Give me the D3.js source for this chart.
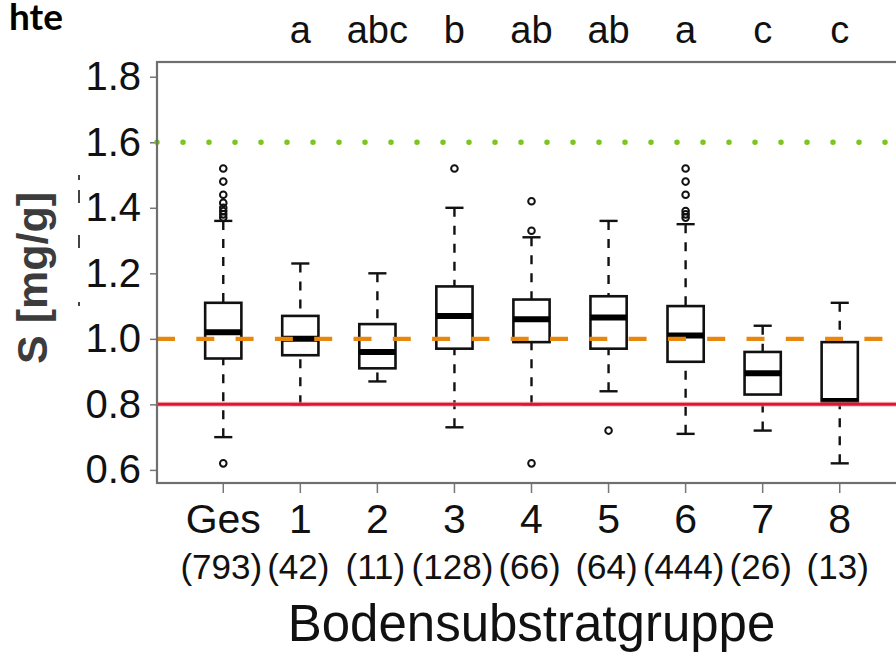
<!DOCTYPE html>
<html>
<head>
<meta charset="utf-8">
<script src="https://cdn.jsdelivr.net/npm/d3@7"></script>
<style>
  html, body { margin: 0; padding: 0; background: #fff; }
  svg { display: block; }
  text { font-family: "Liberation Sans", Arial, Helvetica, sans-serif; }
</style>
</head>
<body>
<svg id="chart" width="896" height="652"></svg>
<script>
// ---- data ----
const categories = ["Ges", "1", "2", "3", "4", "5", "6", "7", "8"];
const counts = [793, 42, 11, 128, 66, 64, 444, 26, 13];
const letters = ["", "a", "abc", "b", "ab", "ab", "a", "c", "c"];
const whiskerLow = [0.70, 0.80, 0.87, 0.73, 0.80, 0.84, 0.71, 0.72, 0.62];
const q1 = [0.94, 0.95, 0.91, 0.97, 0.99, 0.97, 0.93, 0.83, 0.805];
const median = [1.02, 1.00, 0.96, 1.07, 1.06, 1.065, 1.01, 0.895, 0.81];
const q3 = [1.11, 1.07, 1.045, 1.16, 1.12, 1.13, 1.10, 0.96, 0.99];
const whiskerHigh = [1.36, 1.23, 1.20, 1.40, 1.31, 1.36, 1.35, 1.04, 1.11];
const outliers = [
  [1.52, 1.48, 1.44, 1.415, 1.40, 1.39, 1.38, 1.37, 0.62],
  [],
  [],
  [1.52],
  [1.42, 1.33, 0.62],
  [0.72],
  [1.52, 1.48, 1.44, 1.39, 1.38, 1.37],
  [],
  []
];
const yTicks = [0.6, 0.8, 1.0, 1.2, 1.4, 1.6, 1.8];
const refLines = [
  { value: 1.6, kind: "dotted" },
  { value: 1.0, kind: "dashed" },
  { value: 0.8, kind: "solid" }
];
const yLabel = "S [mg/g]";
const xLabel = "Bodensubstratgruppe";
const cornerText = "hte";

// ---- layout ----
const svg = d3.select("#chart");
const frame = { left: 157, right: 906, top: 62, bottom: 483 };
const x = d3.scaleLinear().domain([0.14, 9.86]).range([frame.left, frame.right]);
const y = d3.scaleLinear().domain([0.56, 1.845]).range([frame.bottom, frame.top]);
const unit = x(2) - x(1);
const boxW = unit * 0.47;
const capW = boxW / 2;

const data = categories.map((c, i) => ({
  cat: c, pos: i + 1, n: counts[i], letter: letters[i],
  lo: whiskerLow[i], q1: q1[i], med: median[i], q3: q3[i], hi: whiskerHigh[i],
  out: outliers[i]
}));

// corner title fragment (cropped title in the source)
svg.append("text")
  .attr("x", 63).attr("y", 30)
  .attr("text-anchor", "end")
  .style("font-family", "Lato, 'Open Sans', sans-serif")
  .style("font-weight", 700)
  .style("font-size", "37px")
  .attr("fill", "#000")
  .text(cornerText);

// small cropped artifact (vertical dashed fragment at left)
svg.append("line")
  .attr("x1", 79).attr("x2", 79).attr("y1", 175).attr("y2", 306)
  .attr("stroke", "#444").attr("stroke-width", 2)
  .attr("stroke-dasharray", "5 10 13 32 13 54 4 100");

// y axis label
svg.append("text")
  .attr("transform", `translate(47,${278}) rotate(-90)`)
  .attr("text-anchor", "middle")
  .style("font-weight", 700)
  .style("font-size", "43px")
  .attr("fill", "#3c3c3c")
  .text(yLabel);

// y axis (ticks + labels)
const yAxis = d3.axisLeft(y).tickValues(yTicks).tickFormat(d3.format(".1f"))
  .tickSize(7).tickPadding(9);
const yg = svg.append("g").attr("transform", `translate(${frame.left},0)`).call(yAxis);
yg.select(".domain").remove();
yg.selectAll(".tick line").attr("stroke", "#777").attr("stroke-width", 1.5);
yg.selectAll(".tick text")
  .style("font-family", "'Liberation Sans', Arial, sans-serif")
  .style("font-size", "40px").attr("fill", "#111");

// x axis ticks
const xg = svg.append("g").attr("transform", `translate(0,${frame.bottom})`);
xg.selectAll("line").data(data).join("line")
  .attr("x1", d => x(d.pos)).attr("x2", d => x(d.pos))
  .attr("y1", 0).attr("y2", 10)
  .attr("stroke", "#777").attr("stroke-width", 1.5);

// x tick labels
svg.append("g").selectAll("text").data(data).join("text")
  .attr("x", d => x(d.pos)).attr("y", 533)
  .attr("text-anchor", "middle")
  .style("font-size", "41px").attr("fill", "#111")
  .text(d => d.cat);

svg.append("g").selectAll("text").data(data).join("text")
  .attr("x", d => x(d.pos) - 2).attr("y", 579)
  .attr("text-anchor", "middle")
  .style("font-size", "35px").attr("fill", "#111")
  .text(d => `(${d.n})`);

// x axis title
svg.append("text")
  .attr("x", (x(1) + x(9)) / 2).attr("y", 641)
  .attr("text-anchor", "middle")
  .style("font-size", "51px").attr("fill", "#111")
  .text(xLabel);

// significance letters
svg.append("g").selectAll("text").data(data.filter(d => d.letter)).join("text")
  .attr("x", d => x(d.pos)).attr("y", 43)
  .attr("text-anchor", "middle")
  .style("font-size", "38px").attr("fill", "#111")
  .text(d => d.letter);

// boxplots
const g = svg.append("g");
const box = g.selectAll("g.box").data(data).join("g").attr("class", "box");

// whiskers (dashed)
box.append("line")
  .attr("x1", d => x(d.pos)).attr("x2", d => x(d.pos))
  .attr("y1", d => y(d.hi)).attr("y2", d => y(d.q3))
  .attr("stroke", "#111").attr("stroke-width", 2.4).attr("stroke-dasharray", "9 9");
box.append("line")
  .attr("x1", d => x(d.pos)).attr("x2", d => x(d.pos))
  .attr("y1", d => y(d.lo)).attr("y2", d => y(d.q1))
  .attr("stroke", "#111").attr("stroke-width", 2.4).attr("stroke-dasharray", "9 9");
// caps
box.append("line")
  .attr("x1", d => x(d.pos) - capW / 2).attr("x2", d => x(d.pos) + capW / 2)
  .attr("y1", d => y(d.hi)).attr("y2", d => y(d.hi))
  .attr("stroke", "#111").attr("stroke-width", 2.4);
box.append("line")
  .attr("x1", d => x(d.pos) - capW / 2).attr("x2", d => x(d.pos) + capW / 2)
  .attr("y1", d => y(d.lo)).attr("y2", d => y(d.lo))
  .attr("stroke", "#111").attr("stroke-width", 2.4);
// box
box.append("rect")
  .attr("x", d => x(d.pos) - boxW / 2).attr("width", boxW)
  .attr("y", d => y(d.q3)).attr("height", d => y(d.q1) - y(d.q3))
  .attr("fill", "#fff").attr("stroke", "#111").attr("stroke-width", 2.6);
// median
box.append("line")
  .attr("x1", d => x(d.pos) - boxW / 2).attr("x2", d => x(d.pos) + boxW / 2)
  .attr("y1", d => y(d.med)).attr("y2", d => y(d.med))
  .attr("stroke", "#000").attr("stroke-width", 6);
// outliers
box.selectAll("circle").data(d => d.out.map(v => ({ pos: d.pos, v }))).join("circle")
  .attr("cx", d => x(d.pos)).attr("cy", d => y(d.v)).attr("r", 3.3)
  .attr("fill", "none").attr("stroke", "#111").attr("stroke-width", 2);

// reference lines
const refG = svg.append("g");
refLines.forEach(r => {
  const ln = refG.append("line")
    .attr("x1", frame.left).attr("x2", frame.right)
    .attr("y1", y(r.value)).attr("y2", y(r.value));
  if (r.kind === "dotted") {
    ln.attr("stroke", "#7cc51e").attr("stroke-width", 5.5)
      .attr("stroke-linecap", "round").attr("stroke-dasharray", "0 26");
  } else if (r.kind === "dashed") {
    ln.attr("stroke", "#e8870e").attr("stroke-width", 4.2)
      .attr("stroke-dasharray", "18 21.3");
  } else {
    ln.attr("stroke", "#f29aa8").attr("stroke-width", 5).attr("stroke-opacity", 0.6);
    refG.append("line")
      .attr("x1", frame.left).attr("x2", frame.right)
      .attr("y1", y(r.value)).attr("y2", y(r.value))
      .attr("stroke", "#e3142f").attr("stroke-width", 3);
  }
});

// plot frame
svg.append("rect")
  .attr("x", frame.left).attr("y", frame.top)
  .attr("width", frame.right - frame.left).attr("height", frame.bottom - frame.top)
  .attr("fill", "none").attr("stroke", "#6f6f6f").attr("stroke-width", 2.2);
</script>
</body>
</html>
